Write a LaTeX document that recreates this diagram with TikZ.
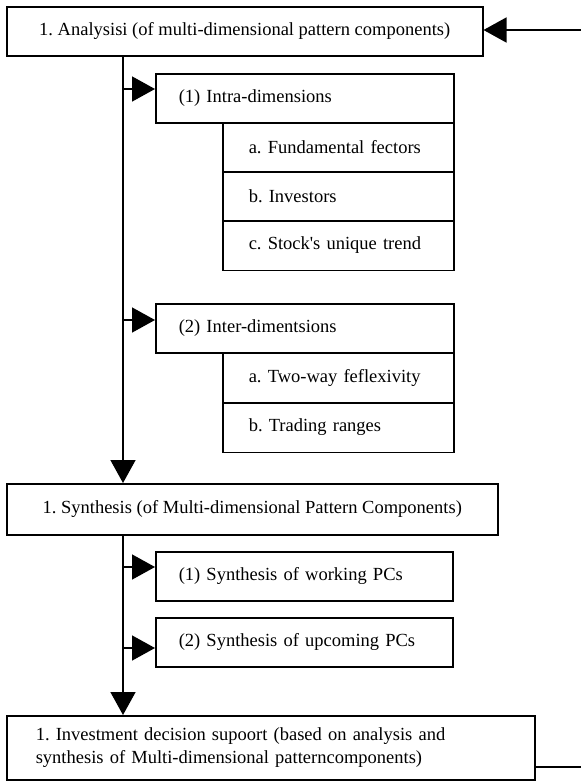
\documentclass[tikz,border=0pt]{standalone}
\usepackage{fontspec}
\setmainfont{Liberation Serif}[Ligatures=TeXOff]
\usetikzlibrary{positioning, arrows.meta}

\tikzset{
    box/.style={draw, line width=1.5pt, anchor=north west, inner sep=0pt,
        font=\fontsize{18.5}{23}\selectfont\frenchspacing},
    subbox/.style={box, align=left, inner xsep=23pt, text width=252pt, minimum height=49pt},
    itembox/.style={box, align=left, inner xsep=26pt, text width=179pt, minimum height=49.5pt},
    arr/.style={line width=1.5pt, -{Triangle[length=23pt, width=25pt]}}
}

\begin{document}
\begin{tikzpicture}[x=1pt, y=-1pt]
    \useasboundingbox (0,0) rectangle (581,782);

    % analysis part
    \node[box, minimum width=476pt, minimum height=49pt](analysis) at (6,6)
        {1. Analysisi (of multi-dimensional pattern components)};
    \node[subbox](intra) at (155,73){(1) Intra-dimensions};
    \node[itembox](fund) at (222,122){a. Fundamental fectors};
    \node[itembox](invest) at (222,171){b. Investors};
    \node[itembox](trend) at (222,220){c. Stock's unique trend};
    \node[subbox](inter) at (155,303){(2) Inter-dimentsions};
    \node[itembox](reflex) at (222,352){a. Two-way feflexivity};
    \node[itembox](ranges) at (222,402){b. Trading ranges};

    % synthesis part
    \node[box, minimum width=491pt, minimum height=51pt](synth) at (6,483)
        {1. Synthesis (of Multi-dimensional Pattern Components)};
    \node[subbox, text width=251pt](working) at (155,551){(1) Synthesis of working PCs};
    \node[subbox, text width=251pt](upcoming) at (155,617){(2) Synthesis of upcoming PCs};

    % decision
    \node[box, align=left, text width=470pt, inner xsep=29pt, minimum height=64pt](decision) at (6,715)
        {1. Investment decision supoort (based on analysis and\\
        synthesis of Multi-dimensional patterncomponents)};

    \coordinate(trunk) at (123,0);
    \coordinate(in1) at (155,89);
    \coordinate(in2) at (155,320);
    \coordinate(in3) at (155,567);
    \coordinate(in4) at (155,648);
    \coordinate(fbin) at (581,30);
    \coordinate(fbout) at (581,767);

    \draw[arr] (analysis.south -| trunk) -- (synth.north -| trunk);
    \draw[arr] (trunk |- in1) -- (in1);
    \draw[arr] (trunk |- in2) -- (in2);
    \draw[arr] (synth.south -| trunk) -- (decision.north -| trunk);
    \draw[arr] (trunk |- in3) -- (in3);
    \draw[arr] (trunk |- in4) -- (in4);

    \draw[arr] (fbin) -- (analysis.east |- fbin);
    \draw[line width=1.5pt] (decision.east |- fbout) -- (fbout);
\end{tikzpicture}
\end{document}
